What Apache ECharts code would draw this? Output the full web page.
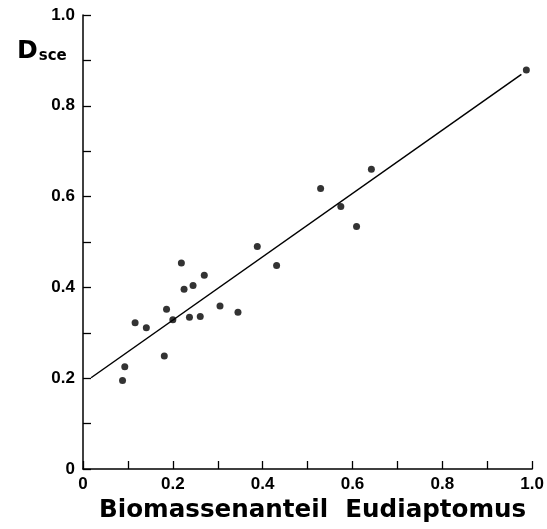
<!DOCTYPE html>
<html>
<head>
<meta charset="utf-8">
<script src="https://cdn.jsdelivr.net/npm/echarts@6/dist/echarts.min.js"></script>
<style>html,body{margin:0;padding:0;background:#fff}#c{width:547px;height:529px}</style>
</head>
<body>
<div id="c"></div>
<script>
// Data
const xValues = [0.088, 0.093, 0.116, 0.141, 0.181, 0.186, 0.200, 0.219, 0.225, 0.237, 0.245, 0.261, 0.270, 0.305, 0.345, 0.388, 0.431, 0.529, 0.574, 0.609, 0.642, 0.987];
const yValues = [0.195, 0.225, 0.322, 0.311, 0.249, 0.352, 0.329, 0.454, 0.396, 0.334, 0.404, 0.336, 0.427, 0.359, 0.345, 0.490, 0.448, 0.618, 0.578, 0.534, 0.660, 0.879];
const fitX = [0.018, 0.976];
const fitY = [0.201, 0.869];
const xTitle = 'Biomassenanteil  Eudiaptomus';

const pts = xValues.map((x, i) => [x, yValues[i]]);
const line = fitX.map((x, i) => [x, fitY[i]]);
const labelFmt = v => {
  const k = Math.round(v * 10);
  if (k % 2) return '';
  return k === 0 ? '0' : v.toFixed(1);
};
const lblFont = {color: '#000', fontWeight: 'bold', fontSize: 17, fontFamily: "'Liberation Sans', Arial, sans-serif"};

const chart = echarts.init(document.getElementById('c'), null, {renderer: 'canvas'});
chart.setOption({
  animation: false,
  backgroundColor: '#fff',
  grid: {left: 83, right: 13, top: 15, bottom: 60, containLabel: false},
  xAxis: {
    type: 'value', min: 0, max: 1, interval: 0.1,
    axisLine: {show: true, lineStyle: {color: '#000', width: 1.5}},
    axisTick: {show: true, inside: true, length: 8, lineStyle: {color: '#000', width: 1.3}},
    splitLine: {show: false},
    axisLabel: Object.assign({formatter: labelFmt, margin: 7, showMinLabel: true, showMaxLabel: true}, lblFont)
  },
  yAxis: {
    type: 'value', min: 0, max: 1, interval: 0.1,
    axisLine: {show: true, lineStyle: {color: '#000', width: 1.5}},
    axisTick: {show: true, inside: true, length: 8, lineStyle: {color: '#000', width: 1.3}},
    splitLine: {show: false},
    axisLabel: Object.assign({formatter: labelFmt, margin: 8, showMinLabel: true, showMaxLabel: true}, lblFont)
  },
  graphic: [
    {type: 'text', left: 99, top: 498, style: {text: xTitle, fill: '#000', font: "bold 24.6px 'DejaVu Sans', sans-serif"}},
    {type: 'text', left: 17, top: 39, style: {
      text: '{d|D}{s|sce}', fill: '#000',
      rich: {
        d: {fontSize: 25, fontWeight: 'bold', fontFamily: "'DejaVu Sans', sans-serif", fill: '#000', verticalAlign: 'bottom'},
        s: {fontSize: 15, fontWeight: 'bold', fontFamily: "'DejaVu Sans', sans-serif", fill: '#000', padding: [8, 0, 0, 1], verticalAlign: 'bottom'}
      }
    }}
  ],
  series: [
    {type: 'line', data: line, symbol: 'none', lineStyle: {color: '#000', width: 1.5}, silent: true},
    {type: 'scatter', data: pts, symbol: 'circle', symbolSize: 7, itemStyle: {color: '#000'}}
  ]
});
</script>
</body>
</html>
